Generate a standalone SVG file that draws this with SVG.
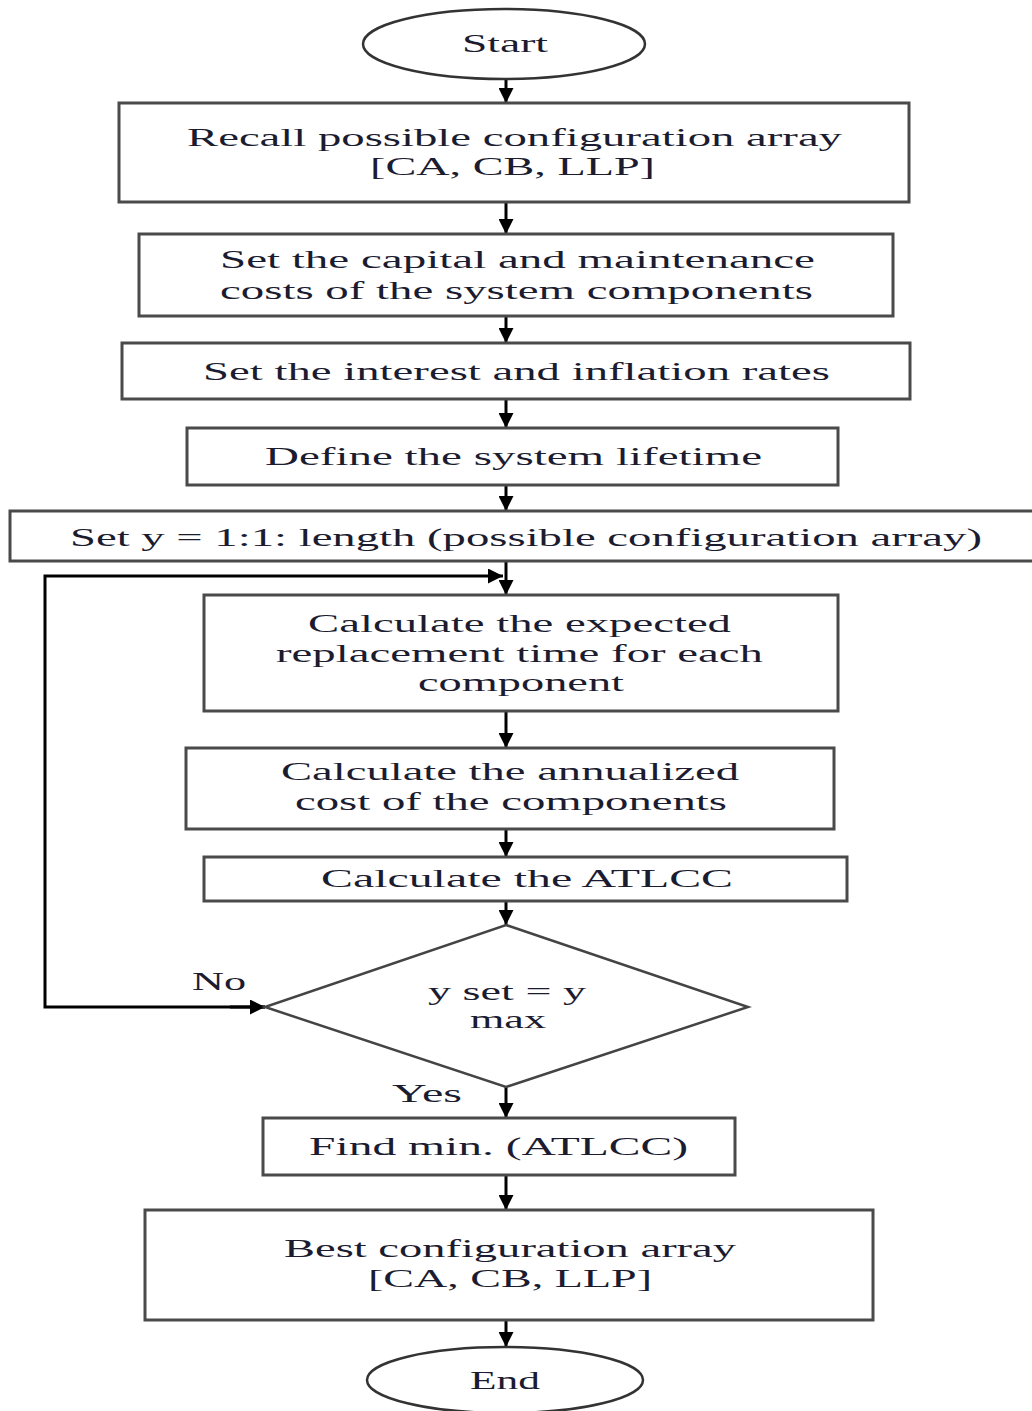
<svg xmlns="http://www.w3.org/2000/svg" width="1032" height="1411" viewBox="0 0 1032 1411">
<defs>
<marker id="ah" viewBox="0 0 10 10" refX="10" refY="5" markerWidth="5" markerHeight="5" orient="auto" markerUnits="strokeWidth">
<path d="M0,0 L10,5 L0,10 z" fill="#000"/>
</marker>
<style>
.box{fill:#fff;stroke:#4a4a4a;stroke-width:3}
.term{fill:#fff;stroke:#333;stroke-width:2.5}
.dia{fill:#fff;stroke:#444;stroke-width:2.5}
.t{font-family:"Liberation Serif","Times New Roman",serif;font-size:26px;fill:#1c1c30;text-anchor:start}
.c{fill:none;stroke:#000;stroke-width:3}
</style>
</defs>
<rect width="1032" height="1411" fill="#fff"/>
<g id="connectors">
<line class="c" x1="506" y1="80" x2="506" y2="103" marker-end="url(#ah)"/>
<line class="c" x1="506" y1="203" x2="506" y2="234" marker-end="url(#ah)"/>
<line class="c" x1="506" y1="316" x2="506" y2="343" marker-end="url(#ah)"/>
<line class="c" x1="506" y1="399" x2="506" y2="428" marker-end="url(#ah)"/>
<line class="c" x1="506" y1="485" x2="506" y2="511" marker-end="url(#ah)"/>
<line class="c" x1="506" y1="561" x2="506" y2="595" marker-end="url(#ah)"/>
<line class="c" x1="506" y1="711" x2="506" y2="748" marker-end="url(#ah)"/>
<line class="c" x1="506" y1="829" x2="506" y2="857" marker-end="url(#ah)"/>
<line class="c" x1="506" y1="901" x2="506" y2="925" marker-end="url(#ah)"/>
<line class="c" x1="506" y1="1087" x2="506" y2="1118" marker-end="url(#ah)"/>
<line class="c" x1="506" y1="1175" x2="506" y2="1210" marker-end="url(#ah)"/>
<line class="c" x1="506" y1="1320" x2="506" y2="1347" marker-end="url(#ah)"/>
<polyline class="c" points="265,1007 45,1007 45,576 503,576" marker-end="url(#ah)"/>
<line class="c" x1="230" y1="1007" x2="265" y2="1007" marker-end="url(#ah)"/>
</g>
<g id="start"><ellipse class="term" cx="504" cy="44" rx="141" ry="35"/><text class="t" x="462" y="52" textLength="86" lengthAdjust="spacingAndGlyphs">Start</text></g>
<g id="recall"><rect class="box" x="119" y="103" width="790" height="99"/>
<text class="t" x="187" y="146" textLength="655" lengthAdjust="spacingAndGlyphs">Recall possible configuration array</text>
<text class="t" x="370" y="175" textLength="285" lengthAdjust="spacingAndGlyphs">[CA, CB, LLP]</text></g>
<g id="capital"><rect class="box" x="139" y="234" width="754" height="82"/>
<text class="t" x="220" y="268" textLength="595" lengthAdjust="spacingAndGlyphs">Set the capital and maintenance</text>
<text class="t" x="220" y="299" textLength="593" lengthAdjust="spacingAndGlyphs">costs of the system components</text></g>
<g id="rates"><rect class="box" x="122" y="343" width="788" height="56"/>
<text class="t" x="203" y="380" textLength="627" lengthAdjust="spacingAndGlyphs">Set the interest and inflation rates</text></g>
<g id="lifetime"><rect class="box" x="187" y="428" width="651" height="57"/>
<text class="t" x="265" y="465" textLength="497" lengthAdjust="spacingAndGlyphs">Define the system lifetime</text></g>
<g id="sety"><rect class="box" x="10" y="511" width="1030" height="50"/>
<text class="t" x="70" y="546" textLength="912" lengthAdjust="spacingAndGlyphs">Set y = 1:1: length (possible configuration array)</text></g>
<g id="replacement"><rect class="box" x="204" y="595" width="634" height="116"/>
<text class="t" x="308" y="632" textLength="423" lengthAdjust="spacingAndGlyphs">Calculate the expected</text>
<text class="t" x="276" y="662" textLength="487" lengthAdjust="spacingAndGlyphs">replacement time for each</text>
<text class="t" x="418" y="691" textLength="206" lengthAdjust="spacingAndGlyphs">component</text></g>
<g id="annualized"><rect class="box" x="186" y="748" width="648" height="81"/>
<text class="t" x="281" y="780" textLength="458" lengthAdjust="spacingAndGlyphs">Calculate the annualized</text>
<text class="t" x="295" y="810" textLength="432" lengthAdjust="spacingAndGlyphs">cost of the components</text></g>
<g id="atlcc"><rect class="box" x="204" y="857" width="643" height="44"/>
<text class="t" x="321" y="887" textLength="412" lengthAdjust="spacingAndGlyphs">Calculate the ATLCC</text></g>
<g id="decision"><polygon class="dia" points="506,925 748,1007 506,1087 265,1007"/>
<text class="t" x="428" y="1000" textLength="158" lengthAdjust="spacingAndGlyphs">y set = y</text>
<text class="t" x="470" y="1028" textLength="76" lengthAdjust="spacingAndGlyphs">max</text></g>
<g id="labels">
<text class="t" x="192" y="990" textLength="54" lengthAdjust="spacingAndGlyphs">No</text>
<text class="t" x="392" y="1102" textLength="70" lengthAdjust="spacingAndGlyphs">Yes</text></g>
<g id="findmin"><rect class="box" x="263" y="1118" width="472" height="57"/>
<text class="t" x="309" y="1155" textLength="379" lengthAdjust="spacingAndGlyphs">Find min. (ATLCC)</text></g>
<g id="best"><rect class="box" x="145" y="1210" width="728" height="110"/>
<text class="t" x="284" y="1257" textLength="452" lengthAdjust="spacingAndGlyphs">Best configuration array</text>
<text class="t" x="368" y="1287" textLength="284" lengthAdjust="spacingAndGlyphs">[CA, CB, LLP]</text></g>
<g id="end"><ellipse class="term" cx="505" cy="1380" rx="138" ry="33"/><text class="t" x="470" y="1389" textLength="70" lengthAdjust="spacingAndGlyphs">End</text></g>
</svg>
